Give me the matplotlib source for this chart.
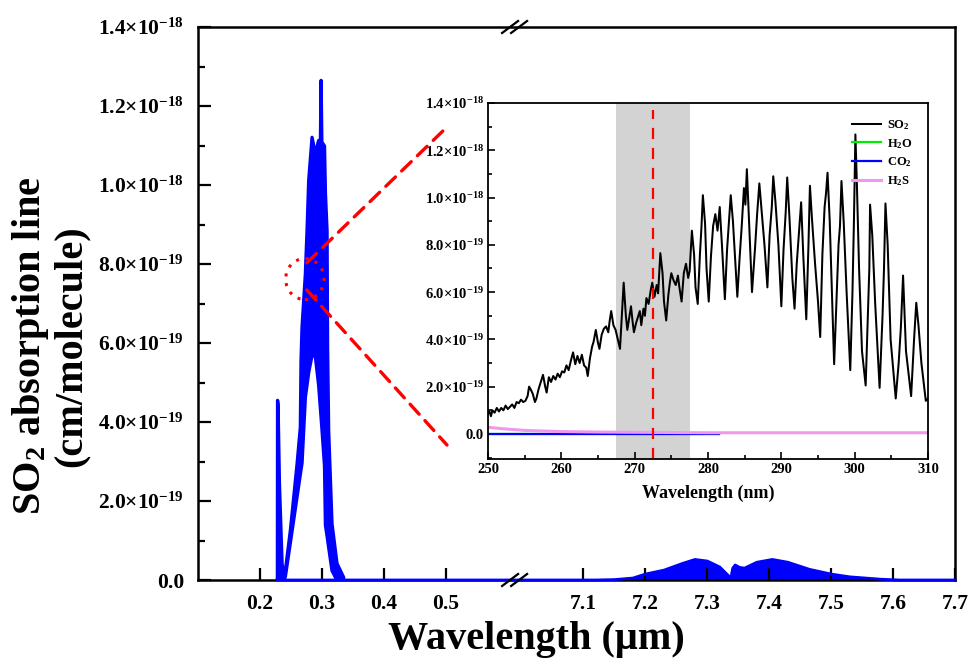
import numpy as np
import matplotlib
matplotlib.use("Agg")
import matplotlib.pyplot as plt
from matplotlib.patches import Ellipse, ConnectionPatch
from matplotlib.ticker import FixedLocator, MultipleLocator

plt.rcParams["font.family"] = ["Liberation Serif", "DejaVu Serif"]
plt.rcParams["font.weight"] = "bold"
plt.rcParams["mathtext.fontset"] = "custom"
plt.rcParams["mathtext.rm"] = "Liberation Serif:bold"
plt.rcParams["mathtext.it"] = "Liberation Serif:italic:bold"
plt.rcParams["mathtext.bf"] = "Liberation Serif:bold"

# ---- main panel: SO2 UV band (um), upper / lower envelope of the dense line spectrum (x1e-19)
uv_um = [0.2274, 0.2277, 0.2285, 0.2307, 0.2350, 0.2376, 0.2403, 0.2484, 0.2592, 0.2645,
         0.2656, 0.2672, 0.2726, 0.2753, 0.2780, 0.2834, 0.2887, 0.2940, 0.2968, 0.2980,
         0.2992, 0.3010, 0.3035, 0.3050, 0.3076, 0.3085, 0.3102, 0.3156, 0.3237, 0.3344]
uv_hi = [0.0, 4.56, 4.45, 2.45, 0.43, 0.10, 0.25, 1.27, 2.95, 3.88,
         5.57, 6.41, 7.76, 8.86, 10.13, 11.22, 10.80, 11.14, 11.00, 12.66,
         11.10, 11.06, 11.00, 9.80, 8.86, 5.90, 3.80, 1.44, 0.43, 0.08]
uv_lo = [0.0, 0.0, 0.0, 0.0, 0.0, 0.0, 0.10, 0.96, 2.12, 2.69,
         2.81, 2.97, 4.64, 4.95, 5.27, 5.70, 5.67, 4.95, 4.37, 4.12,
         3.87, 3.47, 2.90, 1.40, 1.13, 1.03, 0.84, 0.25, 0.0, 0.0]

# SO2 IR band near 7.3 um (x1e-19), baseline included
ir_um = [0.2274, 0.334, 7.12, 7.15, 7.18, 7.20, 7.23, 7.26, 7.28, 7.30, 7.32, 7.338, 7.341,
         7.345, 7.352, 7.36, 7.38, 7.405, 7.43, 7.465, 7.50, 7.53, 7.58, 7.61, 7.70]
ir_val = [0.0, 0.0, 0.0, 0.01, 0.05, 0.15, 0.25, 0.42, 0.52, 0.48, 0.33, 0.05, 0.30,
          0.38, 0.32, 0.30, 0.45, 0.52, 0.45, 0.27, 0.15, 0.08, 0.02, 0.0, 0.0]

x_ticks = [0.2, 0.3, 0.4, 0.5, 7.1, 7.2, 7.3, 7.4, 7.5, 7.6, 7.7]
x_ticklabels = ["0.2", "0.3", "0.4", "0.5", "7.1", "7.2", "7.3", "7.4", "7.5", "7.6", "7.7"]
y_ticks = [0, 2e-19, 4e-19, 6e-19, 8e-19, 1.0e-18, 1.2e-18, 1.4e-18]
y_ticklabels = ["0.0", "2.0×10$^{-19}$", "4.0×10$^{-19}$", "6.0×10$^{-19}$", "8.0×10$^{-19}$",
                "1.0×10$^{-18}$", "1.2×10$^{-18}$", "1.4×10$^{-18}$"]

# ---- inset: 250-310 nm (x1e-19)
so2_nm = [250.0, 250.2, 250.4, 250.6, 250.9, 251.2, 251.5, 251.8, 252.1, 252.4, 252.7, 253.0,
          253.3, 253.6, 253.9, 254.2, 254.5, 254.8, 255.1, 255.4, 255.6, 255.8, 256.1, 256.4,
          256.6, 256.9, 257.2, 257.5, 257.8, 258.0, 258.3, 258.6, 258.9, 259.2, 259.5, 259.8,
          260.1, 260.4, 260.7, 261.0, 261.3, 261.6, 261.9, 262.2, 262.5, 262.8, 263.1, 263.4,
          263.6, 263.9, 264.2, 264.4, 264.7, 265.0, 265.2, 265.5, 265.8, 266.1, 266.4, 266.6,
          266.8, 267.1, 267.4, 267.7, 268.0, 268.2, 268.5, 268.8, 269.0, 269.3, 269.5, 269.7,
          269.9, 270.2, 270.5, 270.7, 270.9, 271.2, 271.4, 271.6, 271.9, 272.2, 272.4, 272.7,
          273.0, 273.2, 273.5, 273.8, 274.0, 274.3, 274.6, 274.8, 275.0, 275.3, 275.6, 275.9,
          276.1, 276.4, 276.7, 277.0, 277.3, 277.5, 277.8, 278.1, 278.3, 278.6, 278.9, 279.1,
          279.3, 279.6, 279.8, 280.1, 280.4, 280.7, 281.0, 281.3, 281.6, 281.9, 282.3, 282.6,
          282.9, 283.1, 283.4, 283.7, 284.0, 284.3, 284.6, 284.9, 285.1, 285.3, 285.6, 286.0,
          286.4, 286.7, 287.0, 287.3, 287.7, 288.1, 288.4, 288.7, 288.9, 289.2, 289.6, 290.0,
          290.3, 290.6, 290.8, 291.1, 291.5, 291.8, 292.1, 292.4, 292.7, 293.0, 293.4, 293.7,
          293.9, 294.2, 294.6, 295.0, 295.3, 295.6, 295.9, 296.1, 296.3, 296.6, 296.9, 297.2,
          297.5, 297.8, 298.0, 298.2, 298.5, 298.9, 299.4, 299.7, 299.9, 300.1, 300.3, 300.6,
          301.0, 301.5, 301.8, 302.0, 302.1, 302.4, 302.8, 303.4, 303.8, 304.0, 304.2, 304.5,
          304.9, 305.6, 306.0, 306.3, 306.6, 307.0, 307.7, 308.1, 308.4, 308.7, 309.1, 309.7,
          310.0]
so2_val = [0.85, 0.95, 0.75, 1.0, 0.9, 1.1, 0.95, 1.1, 1.0, 1.2, 1.05, 1.15,
           1.25, 1.1, 1.35, 1.3, 1.45, 1.35, 1.4, 1.6, 2.0, 1.9, 1.7, 1.35,
           1.5, 1.9, 2.2, 2.5, 2.0, 1.75, 2.4, 2.2, 2.45, 2.3, 2.55, 2.4,
           2.65, 2.6, 2.9, 2.7, 3.1, 3.45, 2.95, 3.3, 3.0, 3.35, 2.9, 2.8,
           2.45, 3.2, 3.7, 3.9, 4.4, 3.85, 3.6, 4.2, 4.45, 4.55, 4.3, 4.8,
           5.2, 4.6, 4.4, 4.0, 3.6, 4.7, 6.4, 5.0, 4.4, 5.0, 5.4, 4.8,
           4.3, 4.7, 5.0, 5.2, 4.6, 5.3, 5.0, 5.75, 5.5, 6.1, 6.4, 5.8,
           6.3, 5.95, 7.65, 6.8, 5.6, 4.8, 5.9, 6.4, 6.8, 6.5, 6.3, 6.7,
           6.2, 5.6, 6.8, 7.2, 6.6, 6.9, 8.6, 7.6, 6.2, 5.5, 7.6, 8.7,
           10.1, 8.9, 7.0, 5.6, 7.5, 8.8, 9.3, 8.6, 9.6, 8.0, 5.7, 7.8,
           9.2, 10.1, 9.0, 7.4, 5.8, 7.4, 8.8, 10.4, 9.7, 11.2, 9.0, 6.0,
           7.8, 9.3, 10.6, 9.5, 8.0, 6.2, 8.4, 9.6, 10.9, 9.8, 8.0, 5.4,
           7.8, 9.4, 10.85, 9.2, 6.6, 5.3, 7.2, 8.5, 9.8, 7.5, 4.85, 8.0,
           10.5, 9.0, 7.2, 5.6, 4.1, 7.6, 9.6, 10.2, 11.05, 9.0, 6.0, 2.95,
           5.5, 8.0, 8.8, 10.7, 9.0, 6.0, 2.7, 6.0, 9.0, 12.67, 10.6, 7.0,
           3.5, 2.05, 5.0, 7.0, 9.7, 8.4, 5.5, 1.95, 5.0, 7.0, 9.75, 8.0,
           4.0, 1.5, 3.0, 4.5, 6.7, 3.5, 1.6, 4.0, 5.55, 4.6, 3.0, 1.4,
           1.5]
h2s_nm = [250, 252, 255, 258, 260, 265, 270, 280, 290, 300, 310]
h2s_val = [0.28, 0.22, 0.15, 0.12, 0.10, 0.08, 0.07, 0.05, 0.05, 0.05, 0.05]
flat_nm = [250, 281.5]
h2o_val = [0.0, 0.0]
co2_val = [0.0, 0.0]
inset_yticks = y_ticks
inset_yticklabels = ["0.0", "2.0×10$^{-19}$", "4.0×10$^{-19}$", "6.0×10$^{-19}$",
                     "8.0×10$^{-19}$", "1.0×10$^{-18}$", "1.2×10$^{-18}$", "1.4×10$^{-18}$"]
band_nm = (267.5, 277.5)
center_nm = 272.5

E19 = 1e-19

# broken x axis: 0.1-0.6 um and 7.0-7.7 um joined by a tiny gap
GAP_LO, GAP_HI, GAP_W = 0.6, 7.0, 0.0226


def fwd(x):
    x = np.asarray(x, float)
    mid = GAP_LO + (x - GAP_LO) / (GAP_HI - GAP_LO) * GAP_W
    return np.where(x <= GAP_LO, x, np.where(x >= GAP_HI, x - GAP_HI + GAP_LO + GAP_W, mid))


def inv(y):
    y = np.asarray(y, float)
    mid = GAP_LO + (y - GAP_LO) / GAP_W * (GAP_HI - GAP_LO)
    return np.where(y <= GAP_LO, y, np.where(y >= GAP_LO + GAP_W, y - GAP_LO - GAP_W + GAP_HI, mid))


fig = plt.figure(figsize=(9.71, 6.60), dpi=100)
ax = fig.add_axes([198 / 971, 1 - 580 / 660, 757 / 971, 553 / 660])
ax.set_xscale("function", functions=(fwd, inv))

uv = np.array(uv_um)
ax.fill_between(uv, np.array(uv_lo) * E19, np.array(uv_hi) * E19, color="blue", lw=2.4)
ir = np.array(ir_um)
ax.fill_between(ir, 0, np.array(ir_val) * E19, color="blue", lw=1.0)
ax.plot(ir, np.array(ir_val) * E19, color="blue", lw=2.0, zorder=3, clip_on=False)

ax.set_xlim(0.1, 7.7)
ax.set_ylim(0, 1.4e-18)
ax.xaxis.set_major_locator(FixedLocator(x_ticks))
ax.set_xticklabels(x_ticklabels)
ax.xaxis.set_minor_locator(FixedLocator([]))
ax.yaxis.set_major_locator(FixedLocator(y_ticks))
ax.set_yticklabels(y_ticklabels)
ax.yaxis.set_minor_locator(MultipleLocator(1e-19))
ax.tick_params(which="both", direction="in", top=False, right=False, width=1.6)
ax.tick_params(which="major", length=9, labelsize=15.5, pad=10)
ax.tick_params(which="minor", length=5)
for s in ax.spines.values():
    s.set_linewidth(1.8)

# break marks
bx = ax.transAxes.inverted().transform(ax.transData.transform((3.8, 0)))[0]
W, H = 757.0, 553.0
for yb in (0.0, 1.0):
    for off in (-4.5, 4.5):
        ax.plot([bx + (off - 8) / W, bx + (off + 8) / W], [yb - 6 / H, yb + 6 / H],
                color="black", lw=1.6, transform=ax.transAxes, clip_on=False, zorder=5)

fig.text(536 / 971, 1 - 640 / 660, "Wavelength (μm)", ha="center", va="center",
         fontsize=29, fontweight="bold")
fig.text(50 / 971, 1 - 346 / 660, "SO$_2$ absorption line\n(cm/molecule)", rotation=90,
         ha="center", va="center", fontsize=29, fontweight="bold", multialignment="center",
         linespacing=1.05)

# zoom marker
ax.add_patch(Ellipse((0.2726, 7.62e-19), 0.062, 1.04e-19, fill=False, ec="red",
                     ls=(0, (1, 2.2)), lw=2.2, zorder=6))

# ---- inset
ins = fig.add_axes([488 / 971, 1 - 459 / 660, 440 / 971, 356 / 660])
ins.axvspan(*band_nm, color="#d3d3d3", lw=0, zorder=0)
ins.plot(so2_nm, np.array(so2_val) * E19, color="black", lw=1.45, label="SO$_2$")
ins.plot(flat_nm, np.array(h2o_val) * E19, color="#00ee00", lw=1.6, label="H$_2$O")
ins.plot(flat_nm, np.array(co2_val) * E19, color="blue", lw=1.6, label="CO$_2$")
ins.plot(h2s_nm, np.array(h2s_val) * E19, color="#ee99ee", lw=2.2, label="H$_2$S")
ins.axvline(center_nm, ymin=0, ymax=0.98, color="red", lw=1.6, ls=(0, (5, 4)))
ins.set_xlim(250, 310)
ins.set_ylim(-1.06e-19, 1.4e-18)
ins.xaxis.set_major_locator(MultipleLocator(10))
ins.xaxis.set_minor_locator(MultipleLocator(5))
ins.yaxis.set_major_locator(FixedLocator(inset_yticks))
ins.set_yticklabels(inset_yticklabels)
ins.yaxis.set_minor_locator(MultipleLocator(1e-19))
ins.tick_params(which="both", direction="in", top=False, right=False, width=1.2)
ins.tick_params(which="major", length=5, labelsize=10.5, pad=3)
ins.tick_params(which="minor", length=3)
for s in ins.spines.values():
    s.set_linewidth(1.3)
ins.set_xlabel("Wavelength (nm)", fontsize=13, fontweight="bold", labelpad=6)
leg = ins.legend(loc="upper right", frameon=False, fontsize=9, handlelength=2.3,
                 labelspacing=0.4, borderaxespad=0.8, handletextpad=0.5)

# dashed connectors from the ellipse to the inset
for ya, yb in ((8.03e-19, 0.9326), (7.34e-19, 0.0393)):
    cp = ConnectionPatch(xyA=(0.2758, ya), coordsA=ax.transData, xyB=(-0.0932, yb),
                         coordsB=ins.transAxes, color="red", lw=2.4, ls=(0, (4, 2.6)), zorder=7)
    fig.add_artist(cp)

fig.savefig("out.png", dpi=100)
